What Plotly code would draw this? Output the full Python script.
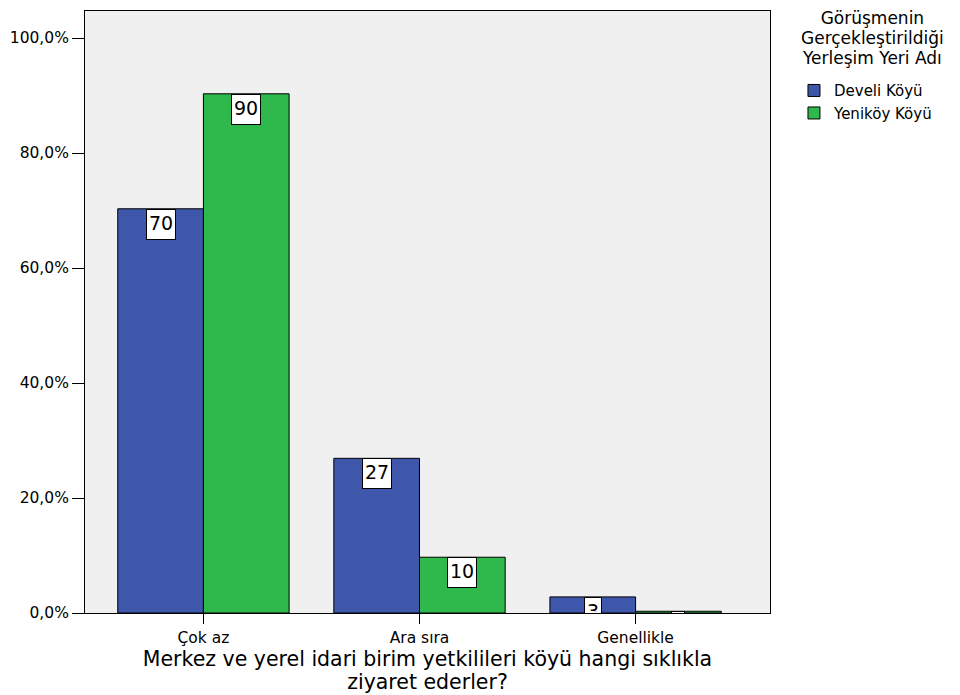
import plotly.graph_objects as go

categories = ["Çok az", "Ara sıra", "Genellikle"]
series_names = ["Develi Köyü", "Yeniköy Köyü"]
develi = [70.3, 26.9, 2.8]
yenikoy = [90.3, 9.7, 0.3]
develi_labels = ["70", "27", "3"]
yenikoy_labels = ["90", "10", "0"]
colors = ["#3f57ab", "#2fb84b"]
y_tickvals = [0, 20, 40, 60, 80, 100]
y_ticktext = ["0,0%", "20,0%", "40,0%", "60,0%", "80,0%", "100,0%"]
legend_title_lines = ["Görüşmenin", "Gerçekleştirildiği", "Yerleşim Yeri Adı"]
x_title_lines = ["Merkez ve yerel idari birim yetkilileri köyü hangi sıklıkla", "ziyaret ederler?"]

FONT = "DejaVu Sans, Verdana, sans-serif"
ML, MR, MT, MB = 74, 198, 2, 90
W, H = 960, 695
plot_h = H - MT - MB
y_range = [0, 104.7]


def tight_lines(lines, size_px):
    return "<br>".join('<span style="font-size:%spx">%s</span>' % (size_px, s) for s in lines)


fig = go.Figure()
for name, vals, col in zip(series_names, [develi, yenikoy], colors):
    fig.add_trace(go.Bar(
        x=categories, y=vals, name=name,
        marker=dict(color=col, line=dict(color="black", width=1)),
    ))

# value label boxes (clipped at the bar base like the original)
offsets = [-0.5, 0.5]
bar_w = 0.793 / 2
for k, (vals, labs) in enumerate([(develi, develi_labels), (yenikoy, yenikoy_labels)]):
    for i, (v, t) in enumerate(zip(vals, labs)):
        px_h = v / (y_range[1] - y_range[0]) * plot_h
        pad = 2 if px_h > 10 else 0
        box_h = min(25, max(px_h - 2 * pad - 1, 1))
        fig.add_annotation(
            x=i + offsets[k] * bar_w, y=v, xref="x", yref="y",
            text=t, showarrow=False, yanchor="top", xanchor="center",
            bgcolor="white", bordercolor="black", borderwidth=1, borderpad=pad,
            height=box_h, valign="top",
            font=dict(family=FONT, size=19, color="black"),
        )

# legend title (three centred lines)
fig.add_annotation(
    x=1.1497, y=1 - (29.5 - MT) / plot_h, xref="paper", yref="paper",
    text=tight_lines(legend_title_lines, 17), showarrow=False,
    xanchor="center", yanchor="middle", align="center",
    font=dict(family=FONT, size=15.4, color="black"),
)

fig.update_layout(
    width=W, height=H,
    margin=dict(l=ML, r=MR, t=MT, b=MB),
    paper_bgcolor="white", plot_bgcolor="#f0f0f0",
    barmode="group", bargap=0.207, bargroupgap=0,
    font=dict(family=FONT, size=15.5, color="black"),
    showlegend=True,
    legend=dict(
        x=1.035, y=0.895, xanchor="left", yanchor="top",
        font=dict(family=FONT, size=15), tracegroupgap=0,
        bgcolor="rgba(0,0,0,0)",
    ),
)
fig.update_xaxes(
    type="category", range=[-0.548, 2.622],
    showline=True, linecolor="black", linewidth=1, mirror=True,
    ticks="outside", ticklen=10, tickcolor="black",
    tickfont=dict(family=FONT, size=15.5),
    title=dict(text=tight_lines(x_title_lines, 20.5),
               font=dict(family=FONT, size=17.7), standoff=8),
    showgrid=False,
)
fig.update_yaxes(
    range=y_range, tickvals=y_tickvals, ticktext=y_ticktext,
    showline=True, linecolor="black", linewidth=1, mirror=True,
    ticks="outside", ticklen=12, tickcolor="black",
    tickfont=dict(family=FONT, size=15.5),
    showgrid=False, zeroline=False,
)

fig.write_html("out.html")
